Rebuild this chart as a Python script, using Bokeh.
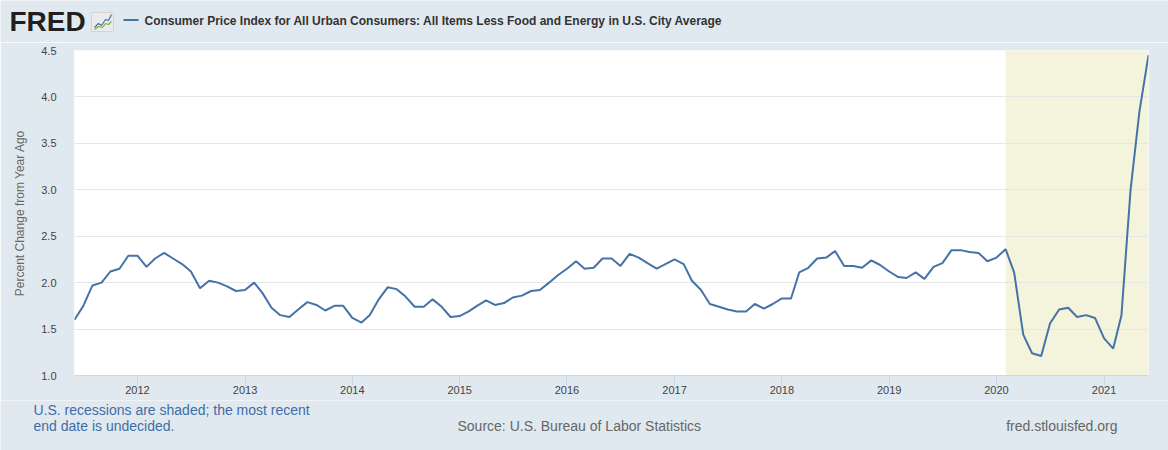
import pandas as pd
from bokeh.plotting import figure
from bokeh.models import (Range1d, FixedTicker, DatetimeTickFormatter, NumeralTickFormatter,
                          BoxAnnotation)
from bokeh.core.properties import value
from bokeh.embed import file_html
from bokeh.resources import INLINE

# ---------------- data ----------------
first_month = "2011-06-01"
core_cpi_yoy = [
    # 2011 Jun-Dec
    1.60, 1.75, 1.97, 2.00, 2.12, 2.15, 2.29,
    # 2012
    2.29, 2.17, 2.26, 2.32, 2.26, 2.20, 2.12, 1.94, 2.02, 2.00, 1.96, 1.91,
    # 2013
    1.92, 2.00, 1.89, 1.73, 1.65, 1.63, 1.71, 1.79, 1.76, 1.70, 1.75, 1.75,
    # 2014
    1.62, 1.57, 1.65, 1.82, 1.95, 1.93, 1.85, 1.74, 1.74, 1.82, 1.74, 1.63,
    # 2015
    1.64, 1.69, 1.75, 1.81, 1.76, 1.78, 1.84, 1.86, 1.91, 1.92, 2.00, 2.08,
    # 2016
    2.15, 2.23, 2.15, 2.16, 2.26, 2.26, 2.18, 2.31, 2.27, 2.21, 2.15, 2.20,
    # 2017
    2.25, 2.20, 2.02, 1.92, 1.77, 1.74, 1.71, 1.69, 1.69, 1.77, 1.72, 1.77,
    # 2018
    1.83, 1.83, 2.11, 2.16, 2.26, 2.27, 2.34, 2.18, 2.18, 2.16, 2.24, 2.19,
    # 2019
    2.12, 2.06, 2.05, 2.11, 2.04, 2.17, 2.21, 2.35, 2.35, 2.33, 2.32, 2.23,
    # 2020
    2.27, 2.36, 2.11, 1.44, 1.24, 1.21, 1.56, 1.71, 1.73, 1.63, 1.65, 1.62,
    # 2021 Jan-Jun
    1.40, 1.29, 1.65, 3.00, 3.84, 4.45,
]
year_ticks = [2012, 2013, 2014, 2015, 2016, 2017, 2018, 2019, 2020, 2021]
y_ticks = [1.0, 1.5, 2.0, 2.5, 3.0, 3.5, 4.0, 4.5]
recession_start = "2020-02-01"

logo_text = "FRED"
series_title = ("Consumer Price Index for All Urban Consumers: All Items Less Food and "
                "Energy in U.S. City Average")
y_label = "Percent Change from Year Ago"
note_line1 = "U.S. recessions are shaded; the most recent"
note_line2 = "end date is undecided."
source_text = "Source: U.S. Bureau of Labor Statistics"
site_text = "fred.stlouisfed.org"

# ---------------- styling ----------------
BG = "#e1e9f0"
LINE = "#4572a7"
SHADE = "#f4f4dc"
FONT = "Liberation Sans"
W = 1168
HEAD_H, MAIN_H, FOOT_H = 42, 358, 50


def strip_figure(height):
    """A figure whose frame is the whole canvas, in pixel units (y down)."""
    f = figure(width=W, height=height, output_backend="svg", toolbar_location=None,
               x_range=Range1d(0, W), y_range=Range1d(height, 0),
               x_axis_location=None, y_axis_location=None,
               min_border=0, min_border_left=0, min_border_right=0,
               min_border_top=0, min_border_bottom=0)
    f.grid.visible = False
    f.outline_line_color = None
    f.background_fill_color = BG
    f.border_fill_color = BG
    return f


# ---------------- header ----------------
head = strip_figure(HEAD_H)
head.text(x=[9], y=[21], text=[logo_text], text_font=value(FONT), text_font_size="28px",
          text_font_style="bold", text_color="#231f20", text_baseline="middle")
head.quad(left=[91], right=[113], top=[12], bottom=[31], fill_color="#ebebeb",
          line_color="#d4d4d4")
head.line(x=[94, 98, 101, 105, 108, 111], y=[27, 23, 25, 19, 20, 14], line_color=LINE,
          line_width=1.2)
head.line(x=[94, 98, 102, 105, 108, 111], y=[29, 26, 27, 23, 24, 21], line_color="#7fb04a",
          line_width=1.2)
head.line(x=[123, 138], y=[19.5, 19.5], line_color=LINE, line_width=2)
head.text(x=[144], y=[20], text=[series_title], text_font=value(FONT), text_font_size="12px",
          text_font_style="bold", text_color="#333333", text_baseline="middle")

# ---------------- main chart ----------------
dates = pd.date_range(first_month, periods=len(core_cpi_yoy), freq="MS")

chart = figure(width=W, height=MAIN_H, x_axis_type="datetime", output_backend="svg",
               toolbar_location=None,
               x_range=Range1d(dates[0], dates[-1]), y_range=Range1d(y_ticks[0], y_ticks[-1]),
               min_border_left=74, min_border_right=20, min_border_top=8,
               min_border_bottom=25)
chart.background_fill_color = "white"
chart.border_fill_color = BG
chart.outline_line_color = None

chart.add_layout(BoxAnnotation(left=pd.Timestamp(recession_start), fill_color=SHADE,
                               fill_alpha=1.0, line_color=None, level="image"))

chart.line(dates, core_cpi_yoy, line_color=LINE, line_width=2)

chart.xaxis.ticker = FixedTicker(ticks=[pd.Timestamp(f"{y}-01-01").value / 1e6
                                        for y in year_ticks])
chart.xaxis.formatter = DatetimeTickFormatter(years="%Y", months="%Y", days="%Y", hours="%Y",
                                              minutes="%Y", seconds="%Y", milliseconds="%Y")
chart.xaxis.axis_line_color = "#ccd6eb"
chart.xaxis.major_tick_line_color = "#ccd6eb"
chart.xaxis.major_tick_out = 10
chart.xaxis.major_tick_in = 0
chart.xaxis.minor_tick_line_color = None
chart.xaxis.major_label_standoff = 0
chart.xgrid.grid_line_color = None

chart.yaxis.ticker = FixedTicker(ticks=y_ticks)
chart.yaxis.formatter = NumeralTickFormatter(format="0.0")
chart.yaxis.axis_line_color = None
chart.yaxis.major_tick_line_color = None
chart.yaxis.minor_tick_line_color = None
chart.yaxis.major_label_standoff = 12
chart.yaxis.axis_label = y_label
chart.yaxis.axis_label_text_font = FONT
chart.yaxis.axis_label_text_font_style = "normal"
chart.yaxis.axis_label_text_font_size = "12px"
chart.yaxis.axis_label_text_color = "#666666"
chart.yaxis.axis_label_standoff = 11
chart.ygrid.grid_line_color = "#e6e6e6"

for ax in (chart.xaxis, chart.yaxis):
    ax.major_label_text_font = FONT
    ax.major_label_text_font_size = "11px"
    ax.major_label_text_color = "#444444"

# ---------------- footer ----------------
foot = strip_figure(FOOT_H)
foot.text(x=[33, 33], y=[9, 25], text=[note_line1, note_line2], text_font=value(FONT),
          text_font_size="14px", text_color="#3e6da6", text_baseline="middle")
foot.text(x=[457], y=[25], text=[source_text], text_font=value(FONT), text_font_size="14px",
          text_color="#666666", text_baseline="middle")
foot.text(x=[1117], y=[25], text=[site_text], text_font=value(FONT), text_font_size="14px",
          text_color="#666666", text_baseline="middle", text_align="right")

# three independent roots stacked on the page (no frame alignment between them)
p = [head, chart, foot]
open("out.html", "w").write(file_html(p, INLINE))
